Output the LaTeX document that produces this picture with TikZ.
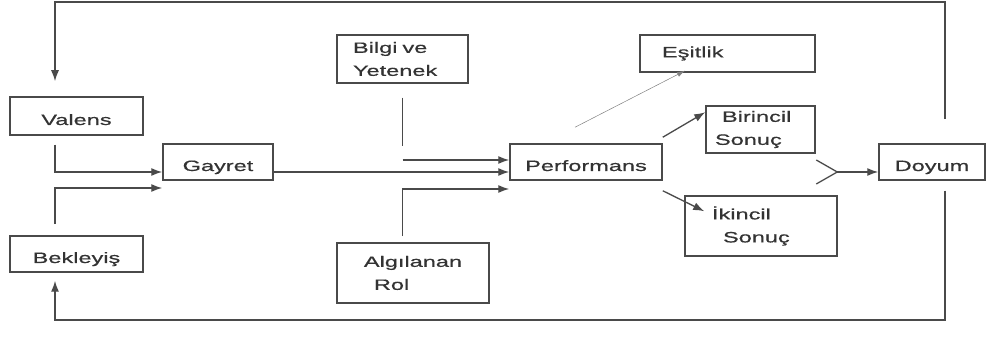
\documentclass[tikz,border=0pt]{standalone}
\usepackage{fontspec}
\setmainfont{Liberation Sans}[FakeStretch=1.57,FakeBold=0.6]
\usetikzlibrary{arrows.meta,calc}
\definecolor{ink}{HTML}{333333}
\definecolor{edge}{HTML}{4A4A4A}
\begin{document}
\begin{tikzpicture}[x=1pt,y=-1pt,
  box/.style={draw=edge,line width=1.5pt,rectangle,inner sep=0pt,text=ink,font=\fontsize{15}{23}\selectfont},
  one/.style={text height=22pt,text depth=4pt},
  conn/.style={draw=edge,line width=1.3pt},
  arr/.style={conn,-{Latex[length=11pt,width=8pt]}},
  faint/.style={draw=gray,line width=0.5pt,-{Latex[length=8pt,width=5pt]}}]
\useasboundingbox (0,0) rectangle (989,347);

\node[box,one,minimum width=133pt,minimum height=38pt] (valens) at (76.5,116) {Valens};
\node[box,one,minimum width=110pt,minimum height=36pt] (gayret) at (218,162) {Gayret};
\node[box,one,minimum width=133pt,minimum height=36pt] (bekleyis) at (76.5,254) {Bekleyiş};
\node[box,minimum width=131pt,minimum height=48pt,text width=99pt,inner xsep=16pt,align=left] (bilgi) at (402.5,59) {Bilgi ve\\Yetenek};
\node[box,minimum width=152pt,minimum height=60pt,align=left] (alg) at (413,273) {Algılanan\\\hspace*{10pt}Rol};
\node[box,one,minimum width=152pt,minimum height=36pt] (performans) at (586,162) {Performans};
\node[box,minimum width=175pt,minimum height=37pt,text width=131pt,inner xsep=22pt,align=left] (esitlik) at (727.5,53.5) {Eşitlik};
\node[box,minimum width=109pt,minimum height=47pt,text width=91pt,inner xsep=9pt,align=left] (birincil) at (760.5,129.5) {\hspace*{7pt}Birincil\\Sonuç};
\node[box,minimum width=152pt,minimum height=60pt,text width=98pt,inner xsep=27pt,align=left] (ikincil) at (761,226) {İkincil\\\hspace*{11pt}Sonuç};
\node[box,one,minimum width=106pt,minimum height=36pt] (doyum) at (932,162) {Doyum};

\coordinate (vtop) at ([xshift=-21.5pt]valens.north);
\coordinate (vbot) at ([xshift=-21.5pt]valens.south);
\coordinate (btop) at ([xshift=-21.5pt]bekleyis.north);
\coordinate (bbot) at ([xshift=-21.5pt]bekleyis.south);
\coordinate (dtop) at ([xshift=13pt]doyum.north);
\coordinate (dbot) at ([xshift=13pt]doyum.south);
\coordinate (topline) at (0,2);
\coordinate (botline) at (0,320);

\draw[arr,shorten <=24pt,shorten >=15pt] (dtop) |- (vtop |- topline) -- (vtop);
\draw[arr,shorten <=10pt,shorten >=8pt] (dbot) |- (bbot |- botline) -- (bbot);

\draw[arr,shorten <=9pt] (vbot) |- ([yshift=-10pt]gayret.west);
\draw[arr,shorten <=11pt] (btop) |- ([yshift=-26pt]gayret.west);
\draw[arr] ([yshift=-10pt]gayret.east) -- ([yshift=-10pt]performans.west);

\draw[conn,shorten <=14pt] (bilgi.south) -- ++(0,62);
\coordinate (pin) at ([yshift=2pt]performans.west);
\draw[arr] (bilgi.south |- pin) -- (pin);
\draw[arr,shorten <=6pt] (alg.north -| bilgi.south) |- ([yshift=-27pt]performans.west);

\draw[faint] ([xshift=-11pt,yshift=16pt]performans.north) -- ([xshift=-42.5pt,yshift=2pt]esitlik.south);
\draw[arr] ([yshift=6pt]performans.north east) -- ([yshift=-7pt]birincil.north west);
\draw[arr] ([yshift=-10pt]performans.south east) -- ([xshift=20pt,yshift=-16pt]ikincil.north west);

\coordinate (merge) at ([xshift=-41pt,yshift=-10pt]doyum.west);
\draw[conn] ([xshift=-21pt,yshift=12pt]merge) -- (merge) -- ([xshift=-21pt,yshift=-12pt]merge);
\draw[arr] (merge) -- ([yshift=-10pt]doyum.west);
\end{tikzpicture}
\end{document}
